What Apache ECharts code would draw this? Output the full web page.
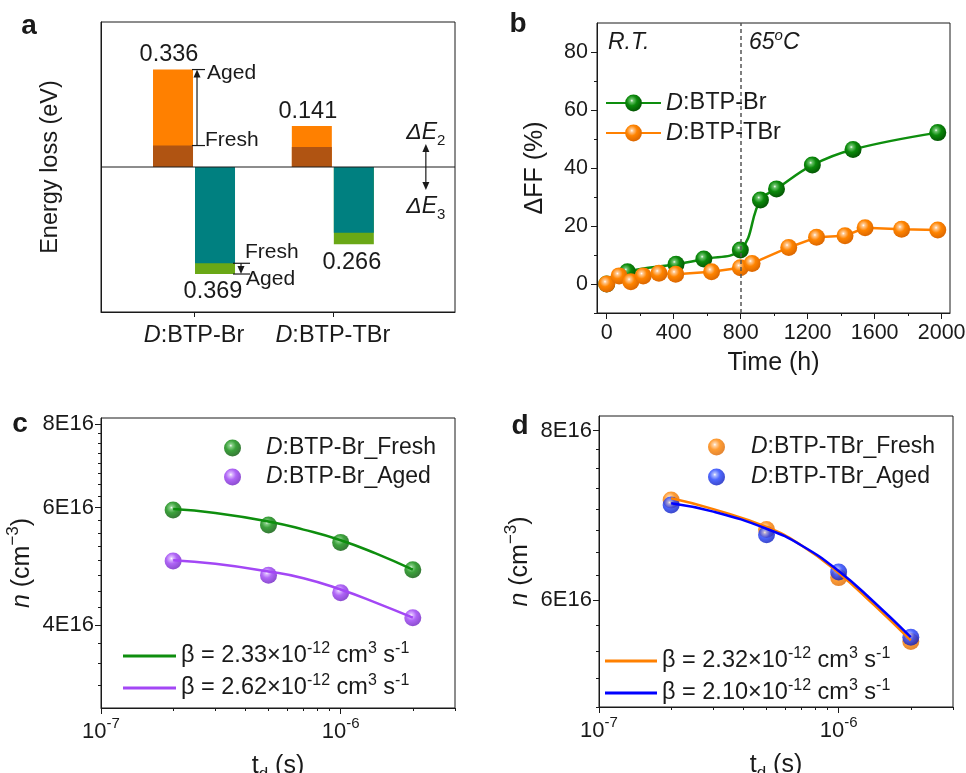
<!DOCTYPE html>
<html>
<head>
<meta charset="utf-8">
<script src="https://cdn.jsdelivr.net/npm/echarts@6/dist/echarts.min.js"></script>
<style>
html,body{margin:0;padding:0;background:#ffffff;}
#chart{width:966px;height:773px;}
</style>
</head>
<body>
<div id="chart"></div>
<script>
const FONT = "'Liberation Sans', Arial, Helvetica, sans-serif";
const INK = '#1a1a1a';

// ---------- Panel a : energy loss (eV) ----------
const aCategories = ['D:BTP-Br', 'D:BTP-TBr'];
const aPositions = [1, 2];
const aE2Fresh = [0.074, 0.069];
const aE2Aged = [0.336, 0.141];
const aE3Fresh = [0.332, 0.227];
const aE3Aged = [0.369, 0.266];

// ---------- Panel b : ΔFF vs time ----------
const bBrTime = [0, 124, 414, 580, 798, 918, 1014, 1228, 1471, 1977];
const bBrDFF = [0, 4.2, 6.8, 8.6, 11.7, 29.0, 32.8, 41.0, 46.4, 52.2];
const bTBrTime = [0, 74, 144, 218, 312, 412, 626, 798, 868, 1087, 1253, 1423, 1543, 1761, 1977];
const bTBrDFF = [0, 2.8, 0.8, 2.8, 3.7, 3.4, 4.2, 5.6, 7.1, 12.6, 16.1, 16.6, 19.4, 18.9, 18.6];
const bXTicks = [0, 400, 800, 1200, 1600, 2000];
const bXMinorTicks = [200, 600, 1000, 1400, 1800];
const bYTicks = [0, 20, 40, 60, 80];
const bYMinorTicks = [-10, 10, 30, 50, 70];
const bSwitchTime = 800;

// ---------- Panels c, d : n vs t_d ----------
const tdPoints = [2e-7, 5e-7, 1e-6, 2e-6];
const tdFit = [2e-7, 3e-7, 5e-7, 7e-7, 1e-6, 1.4e-6, 2e-6];
const cBrFresh = [5.95e16, 5.65e16, 5.32e16, 4.84e16];
const cBrAged = [4.99e16, 4.75e16, 4.47e16, 4.10e16];
const cFitFresh = [5.97e16, 5.89e16, 5.72e16, 5.56e16, 5.36e16, 5.12e16, 4.84e16];
const cFitAged = [5.00e16, 4.94e16, 4.81e16, 4.70e16, 4.52e16, 4.32e16, 4.10e16];
const dTBrFresh = [7.11e16, 6.76e16, 6.23e16, 5.59e16];
const dTBrAged = [7.05e16, 6.70e16, 6.29e16, 5.63e16];
const dFitFresh = [7.13e16, 7.00e16, 6.79e16, 6.58e16, 6.28e16, 5.95e16, 5.60e16];
const dFitAged = [7.07e16, 6.97e16, 6.77e16, 6.58e16, 6.30e16, 5.98e16, 5.63e16];
const logXTicks = [1e-7, 1e-6];
const logXMinorTicks = [2e-7, 3e-7, 4e-7, 5e-7, 6e-7, 7e-7, 8e-7, 9e-7, 2e-6, 3e-6];
const cYTicks = [4e16, 6e16, 8e16];
const cYMinorTicks = [3e16, 3.25e16, 3.5e16, 3.75e16, 4.25e16, 4.5e16, 4.75e16, 5e16, 5.25e16, 5.5e16, 5.75e16, 6.25e16, 6.5e16, 6.75e16, 7e16, 7.25e16, 7.5e16, 7.75e16];
const dYTicks = [6e16, 8e16];
const dYMinorTicks = [5e16, 5.25e16, 5.5e16, 5.75e16, 6.25e16, 6.5e16, 6.75e16, 7e16, 7.25e16, 7.5e16, 7.75e16];
const cBetaFresh = 'β = 2.33×10^-12 cm^3 s^-1';
const cBetaAged = 'β = 2.62×10^-12 cm^3 s^-1';
const dBetaFresh = 'β = 2.32×10^-12 cm^3 s^-1';
const dBetaAged = 'β = 2.10×10^-12 cm^3 s^-1';

// ---------- colours ----------
const GREEN = '#0e8e0e', ORANGE = '#ff8000', PURPLE = '#a347f5', BLUE = '#0000ff';
const BROWN = '#b05412', TEAL = '#008080', LIME = '#6aa816';

function sphere(light, base, dark) {
  return {type: 'radial', x: 0.4, y: 0.36, r: 0.68, colorStops: [
    {offset: 0, color: '#ffffff'}, {offset: 0.13, color: light},
    {offset: 0.45, color: base}, {offset: 1, color: dark}]};
}
const S_GREEN = sphere('#6cc46c', '#0b8a0b', '#035203');
const S_ORANGE = sphere('#ffc890', '#ff8400', '#d86400');
const S_PURPLE = sphere('#d4aaff', '#9c40f4', '#6c1ec0');
const S_BLUE = sphere('#98a8ff', '#2242ff', '#0a18b8');

function richSet(fs, lh) {
  const sfs = Math.round(fs * 0.66);
  return {
    i: {fontStyle: 'italic', fontSize: fs, fontFamily: FONT, color: INK, lineHeight: lh},
    n: {fontSize: fs, fontFamily: FONT, color: INK, lineHeight: lh},
    sup: {fontSize: sfs, lineHeight: sfs, verticalAlign: 'top', fontFamily: FONT, color: INK},
    sub: {fontSize: sfs, lineHeight: sfs, verticalAlign: 'bottom', fontFamily: FONT, color: INK}
  };
}
const italicD = s => s.replace(/^D/, '{i|D}');
const supFmt = s => s.replace(/\^(-?\d+)/g, '{sup|$1}');
const zip = (xs, ys) => xs.map((x, i) => [x, ys[i]]);

const axisLine = {show: true, onZero: false, lineStyle: {color: INK, width: 1}};
function mainAxis(o) {
  return Object.assign({axisLine: axisLine, splitLine: {show: false}, axisPointer: {show: false}}, o);
}
function minorAxis(gridIndex, type, min, max, values, position) {
  const ax = {gridIndex, type, min, max, position,
    axisLine: {show: false, onZero: false}, splitLine: {show: false},
    axisLabel: {show: false},
    axisTick: {show: true, length: 3, customValues: values, lineStyle: {color: INK, width: 1}}};
  if (type === 'log') ax.logBase = 10;
  return ax;
}
const majorTick = vals => ({show: true, length: 6, customValues: vals, lineStyle: {color: INK, width: 1}});

// panel a bar pair renderer: side -1 -> left column (ΔE2), +1 -> right column (ΔE3)
function barPair(colFresh, colAged, side, labelDx) {
  return function (params, api) {
    const x = api.value(0), f = api.value(1), a = api.value(2);
    const p0 = api.coord([x, 0]), pf = api.coord([x, f]), pa = api.coord([x, a]);
    const w = 40, gap = 2;
    const left = side < 0 ? p0[0] - gap / 2 - w : p0[0] + gap / 2;
    const labelY = side < 0 ? pa[1] - 15 : pa[1] + 18;
    return {type: 'group', children: [
      {type: 'rect', shape: {x: left, y: Math.min(p0[1], pa[1]), width: w, height: Math.abs(pa[1] - p0[1])}, style: {fill: colAged}},
      {type: 'rect', shape: {x: left, y: Math.min(p0[1], pf[1]), width: w, height: Math.abs(pf[1] - p0[1])}, style: {fill: colFresh}},
      {type: 'text', style: {text: Math.abs(a).toFixed(3), x: left + w / 2 + labelDx, y: labelY,
        align: 'center', verticalAlign: 'middle', fontSize: 23.5, fontFamily: FONT, fill: INK}}
    ]};
  };
}

const chart = echarts.init(document.getElementById('chart'), null, {renderer: 'canvas'});
const gridBase = {show: true, borderColor: INK, borderWidth: 1, backgroundColor: 'transparent', containLabel: false, outerBoundsMode: 'none'};

const logLabel = v => '10{sup|' + Math.round(Math.log10(v)) + '}';
const eLabel = v => Math.round(v / 1e16) + 'E16';
const plain = v => String(v);

const option = {
  animation: false,
  textStyle: {fontFamily: FONT, color: INK},
  grid: [
    Object.assign({left: 101, top: 22, width: 354, height: 290}, gridBase),
    Object.assign({left: 597, top: 23, width: 353, height: 290}, gridBase),
    Object.assign({left: 101, top: 418, width: 354, height: 290}, gridBase),
    Object.assign({left: 599, top: 416, width: 354, height: 291}, gridBase)
  ],
  xAxis: [
    mainAxis({gridIndex: 0, type: 'value', min: 0.33, max: 2.88, position: 'bottom',
      axisTick: {show: true, length: 5, customValues: aPositions, lineStyle: {color: INK}},
      axisLabel: {customValues: aPositions, margin: 10, fontSize: 23.5, color: INK, lineHeight: 27,
        formatter: v => italicD(aCategories[aPositions.indexOf(v)] || ''), rich: richSet(23.5, 27)}}),
    mainAxis({gridIndex: 1, type: 'value', min: -58, max: 2050, position: 'bottom',
      axisTick: majorTick(bXTicks),
      axisLabel: {customValues: bXTicks, margin: 9, fontSize: 21.5, color: INK, formatter: plain},
      name: 'Time (h)', nameLocation: 'middle', nameGap: 38, nameTextStyle: {fontSize: 25, color: INK}}),
    minorAxis(1, 'value', -58, 2050, bXMinorTicks, 'bottom'),
    mainAxis({gridIndex: 2, type: 'log', logBase: 10, min: 1e-7, max: 3e-6, position: 'bottom',
      axisTick: majorTick(logXTicks),
      axisLabel: {customValues: logXTicks, margin: 8, fontSize: 22, color: INK, lineHeight: 32,
        formatter: logLabel, rich: richSet(22, 32)},
      name: '{n|t}{sub|d} (s)', nameLocation: 'middle', nameGap: 35,
      nameTextStyle: {fontSize: 25, color: INK, lineHeight: 34, rich: richSet(25, 34)}}),
    minorAxis(2, 'log', 1e-7, 3e-6, logXMinorTicks, 'bottom'),
    mainAxis({gridIndex: 3, type: 'log', logBase: 10, min: 1e-7, max: 3e-6, position: 'bottom',
      axisTick: majorTick(logXTicks),
      axisLabel: {customValues: logXTicks, margin: 8, fontSize: 22, color: INK, lineHeight: 32,
        formatter: logLabel, rich: richSet(22, 32)},
      name: '{n|t}{sub|d} (s)', nameLocation: 'middle', nameGap: 35,
      nameTextStyle: {fontSize: 25, color: INK, lineHeight: 34, rich: richSet(25, 34)}}),
    minorAxis(3, 'log', 1e-7, 3e-6, logXMinorTicks, 'bottom')
  ],
  yAxis: [
    mainAxis({gridIndex: 0, type: 'value', min: -0.5, max: 0.5, position: 'left',
      axisTick: {show: false}, axisLabel: {show: false},
      name: 'Energy loss (eV)', nameLocation: 'middle', nameGap: 38, nameTextStyle: {fontSize: 23.5, color: INK}}),
    mainAxis({gridIndex: 1, type: 'value', min: -10, max: 90, position: 'left',
      axisTick: majorTick(bYTicks),
      axisLabel: {customValues: bYTicks, margin: 9, fontSize: 21.5, color: INK, formatter: plain},
      name: 'ΔFF (%)', nameLocation: 'middle', nameGap: 49, nameTextStyle: {fontSize: 25, color: INK}}),
    minorAxis(1, 'value', -10, 90, bYMinorTicks, 'left'),
    mainAxis({gridIndex: 2, type: 'log', logBase: 10, min: 3e16, max: 8.18e16, position: 'left',
      axisTick: majorTick(cYTicks),
      axisLabel: {customValues: cYTicks, margin: 7, fontSize: 22, color: INK, formatter: eLabel},
      name: '{i|n} (cm{sup|−3})', nameLocation: 'middle', nameGap: 57,
      nameTextStyle: {fontSize: 25, color: INK, lineHeight: 34, rich: richSet(25, 34)}}),
    minorAxis(2, 'log', 3e16, 8.18e16, cYMinorTicks, 'left'),
    mainAxis({gridIndex: 3, type: 'log', logBase: 10, min: 5e16, max: 8.2e16, position: 'left',
      axisTick: majorTick(dYTicks),
      axisLabel: {customValues: dYTicks, margin: 7, fontSize: 22, color: INK, formatter: eLabel},
      name: '{i|n} (cm{sup|−3})', nameLocation: 'middle', nameGap: 59,
      nameTextStyle: {fontSize: 25, color: INK, lineHeight: 34, rich: richSet(25, 34)}}),
    minorAxis(3, 'log', 5e16, 8.2e16, dYMinorTicks, 'left')
  ],
  legend: [
    {data: ['D:BTP-Br', 'D:BTP-TBr'], left: 600, top: 86, orient: 'vertical', selectedMode: false,
      itemWidth: 55, itemHeight: 21, itemGap: 6, formatter: italicD,
      textStyle: {fontSize: 23.5, lineHeight: 24, color: INK, rich: richSet(23.5, 24)}},
    {data: ['D:BTP-Br_Fresh', 'D:BTP-Br_Aged'], left: 219, top: 431, orient: 'vertical', selectedMode: false,
      itemWidth: 17, itemHeight: 17, itemGap: 5, formatter: italicD,
      textStyle: {fontSize: 23, lineHeight: 24, color: INK, padding: [0, 0, 0, 20], rich: richSet(23, 24)}},
    {data: [{name: cBetaFresh, icon: 'rect'}, {name: cBetaAged, icon: 'rect'}], left: 118, top: 636, orient: 'vertical', selectedMode: false,
      itemWidth: 53, itemHeight: 3, itemGap: 2, formatter: supFmt,
      textStyle: {fontSize: 23.5, lineHeight: 30, color: INK, rich: richSet(23.5, 30)}},
    {data: ['D:BTP-TBr_Fresh', 'D:BTP-TBr_Aged'], left: 703, top: 430, orient: 'vertical', selectedMode: false,
      itemWidth: 17, itemHeight: 17, itemGap: 6, formatter: italicD,
      textStyle: {fontSize: 23, lineHeight: 24, color: INK, padding: [0, 0, 0, 21], rich: richSet(23, 24)}},
    {data: [{name: dBetaFresh, icon: 'rect'}, {name: dBetaAged, icon: 'rect'}], left: 600, top: 641, orient: 'vertical', selectedMode: false,
      itemWidth: 52, itemHeight: 3, itemGap: 2, formatter: supFmt,
      textStyle: {fontSize: 23.5, lineHeight: 30, color: INK, rich: richSet(23.5, 30)}}
  ],
  series: [
    // ----- panel a -----
    {type: 'custom', name: 'ΔE2', xAxisIndex: 0, yAxisIndex: 0, silent: true,
      encode: {x: 0, y: [1, 2]},
      data: aPositions.map((x, i) => [x, aE2Fresh[i], aE2Aged[i]]),
      renderItem: barPair(BROWN, ORANGE, -1, -4)},
    {type: 'custom', name: 'ΔE3', xAxisIndex: 0, yAxisIndex: 0, silent: true,
      encode: {x: 0, y: [1, 2]},
      data: aPositions.map((x, i) => [x, -aE3Fresh[i], -aE3Aged[i]]),
      renderItem: barPair(TEAL, LIME, 1, -2)},
    // ----- panel b -----
    {type: 'line', name: 'D:BTP-Br', xAxisIndex: 1, yAxisIndex: 1, data: zip(bBrTime, bBrDFF),
      smooth: 0.4, symbol: 'circle', symbolSize: 17, color: GREEN, silent: true,
      lineStyle: {color: GREEN, width: 2.5}, itemStyle: {color: S_GREEN, borderWidth: 0},
      markLine: {silent: true, symbol: ['none', 'none'], label: {show: false},
        lineStyle: {color: '#555555', width: 1.5, type: [4, 3]}, data: [{xAxis: bSwitchTime}]}},
    {type: 'line', name: 'D:BTP-TBr', xAxisIndex: 1, yAxisIndex: 1, data: zip(bTBrTime, bTBrDFF),
      symbol: 'circle', symbolSize: 17, color: ORANGE, silent: true,
      lineStyle: {color: ORANGE, width: 2.5}, itemStyle: {color: S_ORANGE, borderWidth: 0}},
    // ----- panel c -----
    {type: 'line', name: cBetaFresh, xAxisIndex: 3, yAxisIndex: 3, data: zip(tdFit, cFitFresh), smooth: true,
      symbol: 'none', color: GREEN, lineStyle: {color: GREEN, width: 2.5}, silent: true},
    {type: 'line', name: cBetaAged, xAxisIndex: 3, yAxisIndex: 3, data: zip(tdFit, cFitAged), smooth: true,
      symbol: 'none', color: PURPLE, lineStyle: {color: PURPLE, width: 2.5}, silent: true},
    {type: 'scatter', name: 'D:BTP-Br_Fresh', xAxisIndex: 3, yAxisIndex: 3, data: zip(tdPoints, cBrFresh),
      symbol: 'circle', symbolSize: 17, itemStyle: {color: S_GREEN}, silent: true},
    {type: 'scatter', name: 'D:BTP-Br_Aged', xAxisIndex: 3, yAxisIndex: 3, data: zip(tdPoints, cBrAged),
      symbol: 'circle', symbolSize: 17, itemStyle: {color: S_PURPLE}, silent: true},
    // ----- panel d -----
    {type: 'scatter', name: 'D:BTP-TBr_Fresh', xAxisIndex: 5, yAxisIndex: 5, data: zip(tdPoints, dTBrFresh),
      symbol: 'circle', symbolSize: 17, itemStyle: {color: S_ORANGE}, silent: true},
    {type: 'scatter', name: 'D:BTP-TBr_Aged', xAxisIndex: 5, yAxisIndex: 5, data: zip(tdPoints, dTBrAged),
      symbol: 'circle', symbolSize: 17, itemStyle: {color: S_BLUE}, silent: true},
    {type: 'line', name: dBetaFresh, xAxisIndex: 5, yAxisIndex: 5, data: zip(tdFit, dFitFresh), smooth: true,
      symbol: 'none', color: ORANGE, lineStyle: {color: ORANGE, width: 2.5}, silent: true, z: 3},
    {type: 'line', name: dBetaAged, xAxisIndex: 5, yAxisIndex: 5, data: zip(tdFit, dFitAged), smooth: true,
      symbol: 'none', color: BLUE, lineStyle: {color: BLUE, width: 2.5}, silent: true, z: 3}
  ]
};
chart.setOption(option);

// ---------- annotations ----------
function txt(text, x, y, o) {
  return {type: 'text', silent: true, z: 100, style: Object.assign({
    text, x, y, fill: INK, fontFamily: FONT, fontSize: 23, align: 'left', verticalAlign: 'middle'}, o || {})};
}
function seg(x1, y1, x2, y2, w) {
  return {type: 'line', silent: true, z: 100, shape: {x1, y1, x2, y2}, style: {stroke: INK, lineWidth: w || 1.2}};
}
function head(x, y, dir) { // tip at (x,y); dir -1 = up, +1 = down
  return {type: 'polygon', silent: true, z: 100,
    shape: {points: [[x, y], [x - 3.5, y - dir * 8], [x + 3.5, y - dir * 8]]}, style: {fill: INK}};
}
const px = (x, y) => chart.convertToPixel({xAxisIndex: 0, yAxisIndex: 0}, [x, y]);
const [cx, yA2] = px(aPositions[0], aE2Aged[0]);
const yF2 = px(aPositions[0], aE2Fresh[0])[1];
const yF3 = px(aPositions[0], -aE3Fresh[0])[1];
const yA3 = px(aPositions[0], -aE3Aged[0])[1];
const yZero = px(aPositions[0], 0)[1];
const gridL = px(0.33, 0)[0], gridR = px(2.88, 0)[0];
const arrowX = px(2.67, 0)[0];

const graphics = [
  txt('a', 29, 26, {fontSize: 28, fontWeight: 'bold', align: 'center'}),
  txt('b', 518, 24, {fontSize: 28, fontWeight: 'bold', align: 'center'}),
  txt('c', 20, 424, {fontSize: 28, fontWeight: 'bold', align: 'center'}),
  txt('d', 520, 426, {fontSize: 28, fontWeight: 'bold', align: 'center'}),
  // zero line of panel a
  seg(gridL, yZero, gridR, yZero, 1),
  // ΔE2 aged vs fresh
  seg(cx - 2, yA2, cx + 11, yA2), seg(cx - 2, yF2, cx + 11, yF2),
  seg(cx + 3, yF2, cx + 3, yA2 + 6), head(cx + 3, yA2, -1),
  txt('Aged', cx + 13, yA2 + 4, {fontSize: 21}),
  txt('Fresh', cx + 11, yF2 - 5, {fontSize: 21}),
  // ΔE3 fresh vs aged
  seg(cx + 39, yF3, cx + 56, yF3), seg(cx + 39, yA3, cx + 56, yA3),
  seg(cx + 47, yF3, cx + 47, yA3 - 5), head(cx + 47, yA3, 1),
  txt('Fresh', cx + 51, yF3 - 11, {fontSize: 21}),
  txt('Aged', cx + 52, yA3 + 5, {fontSize: 21}),
  // ΔE2 / ΔE3 double arrow
  seg(arrowX, yZero - 16, arrowX, yZero + 16),
  head(arrowX, yZero - 23, -1), head(arrowX, yZero + 23, 1),
  txt('{i|ΔE}{sub|2}', arrowX, yZero - 34, {align: 'center', lineHeight: 30, rich: richSet(23, 30)}),
  txt('{i|ΔE}{sub|3}', arrowX, yZero + 40, {align: 'center', lineHeight: 30, rich: richSet(23, 30)}),
  // panel b region labels
  txt('R.T.', 608, 43, {fontStyle: 'italic'}),
  txt('{i|65}{sup|o}{i|C}', 749, 43, {lineHeight: 30, rich: Object.assign(richSet(23, 30), {sup: {fontSize: 15, lineHeight: 15, verticalAlign: 'top', fontStyle: 'italic', fontFamily: FONT, color: INK}})})
];
chart.setOption({graphic: graphics});
</script>
</body>
</html>
